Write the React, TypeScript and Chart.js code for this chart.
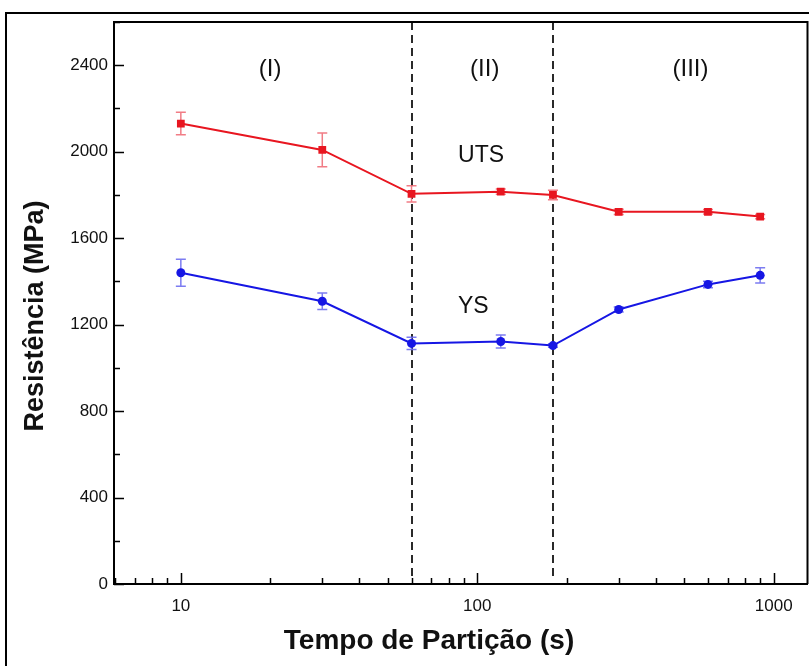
import React, { useEffect, useRef } from "react";
import { Chart, registerables } from "chart.js";

Chart.register(...registerables);

// ---- data ----
const times = [10, 30, 60, 120, 180, 300, 600, 900];
const utsValues = [2130, 2008, 1805, 1815, 1800, 1722, 1722, 1700];
const utsErrors = [52, 78, 38, 12, 22, 12, 10, 10];
const ysValues = [1440, 1308, 1113, 1122, 1103, 1270, 1386, 1428];
const ysErrors = [62, 38, 28, 30, 8, 12, 15, 35];
const xTickValues = [10, 100, 1000];
const yTickValues = [0, 400, 800, 1200, 1600, 2000, 2400];
const yMinorValues = [200, 600, 1000, 1400, 1800, 2200, 2600];
const xMinorValues = [6, 7, 8, 9, 20, 30, 40, 50, 60, 70, 80, 90, 200, 300, 400, 500, 600, 700, 800, 900];
const regionBoundaries = [60, 180];
const regionNames = ["(I)", "(II)", "(III)"];
const regionNameX = [20, 106, 524];
const regionNameY = 2380;
const seriesNames = ["UTS", "YS"];
const seriesNameX = [103, 97];
const seriesNameY = [1951, 1253];

const FONT = "'Liberation Sans', Arial, Helvetica, sans-serif";
const RED = "rgb(232,22,32)";
const BLUE = "rgb(22,22,228)";

const decorPlugin = {
  id: "decor",
  beforeDatasetsDraw(chart: any) {
    const { ctx, chartArea, scales } = chart;
    const xs = scales.x;
    ctx.save();
    ctx.strokeStyle = "#2a2a2a";
    ctx.lineWidth = 2;
    ctx.setLineDash([8, 5]);
    regionBoundaries.forEach((v) => {
      const px = Math.round(xs.getPixelForValue(v));
      ctx.beginPath();
      ctx.moveTo(px, chartArea.top);
      ctx.lineTo(px, chartArea.bottom - 4);
      ctx.stroke();
    });
    ctx.setLineDash([]);
    const drawErr = (vals: number[], errs: number[], color: string) => {
      ctx.strokeStyle = color;
      ctx.lineWidth = 1.5;
      times.forEach((t, i) => {
        const px = xs.getPixelForValue(t);
        const top = scales.y.getPixelForValue(vals[i] + errs[i]);
        const bot = scales.y.getPixelForValue(vals[i] - errs[i]);
        ctx.beginPath();
        ctx.moveTo(px, top);
        ctx.lineTo(px, bot);
        ctx.moveTo(px - 5, top);
        ctx.lineTo(px + 5, top);
        ctx.moveTo(px - 5, bot);
        ctx.lineTo(px + 5, bot);
        ctx.stroke();
      });
    };
    drawErr(utsValues, utsErrors, "rgba(240,110,120,0.9)");
    drawErr(ysValues, ysErrors, "rgba(110,110,240,0.9)");
    ctx.restore();
  },
  afterDraw(chart: any) {
    const { ctx, chartArea, scales } = chart;
    const xs = scales.x;
    const ys = scales.y;
    ctx.save();
    ctx.strokeStyle = "#000";
    ctx.lineWidth = 2;
    ctx.strokeRect(6, 13, 900, 800);
    ctx.beginPath();
    ctx.moveTo(chartArea.left, chartArea.top);
    ctx.lineTo(chartArea.right, chartArea.top);
    ctx.lineTo(chartArea.right, chartArea.bottom);
    ctx.stroke();
    ctx.lineWidth = 1.5;
    ctx.beginPath();
    yTickValues.forEach((v) => {
      const py = Math.round(ys.getPixelForValue(v)) + 0.5;
      ctx.moveTo(chartArea.left, py);
      ctx.lineTo(chartArea.left + 10, py);
    });
    yMinorValues.forEach((v) => {
      const py = Math.round(ys.getPixelForValue(v)) + 0.5;
      ctx.moveTo(chartArea.left, py);
      ctx.lineTo(chartArea.left + 6, py);
    });
    xTickValues.forEach((v) => {
      const px = Math.round(xs.getPixelForValue(v)) + 0.5;
      ctx.moveTo(px, chartArea.bottom);
      ctx.lineTo(px, chartArea.bottom - 11);
    });
    xMinorValues.forEach((v) => {
      const px = Math.round(xs.getPixelForValue(v)) + 0.5;
      ctx.moveTo(px, chartArea.bottom);
      ctx.lineTo(px, chartArea.bottom - 6);
    });
    ctx.stroke();

    ctx.fillStyle = "#111";
    ctx.textAlign = "center";
    ctx.textBaseline = "middle";
    ctx.font = `24px ${FONT}`;
    regionNames.forEach((name, i) => {
      ctx.fillText(name, xs.getPixelForValue(regionNameX[i]), ys.getPixelForValue(regionNameY));
    });
    ctx.textBaseline = "alphabetic";
    ctx.font = `23px ${FONT}`;
    seriesNames.forEach((name, i) => {
      ctx.fillText(name, xs.getPixelForValue(seriesNameX[i]), ys.getPixelForValue(seriesNameY[i]));
    });
    ctx.font = `bold 28px ${FONT}`;
    ctx.fillText("Tempo de Partição (s)", 429, 649);
    ctx.save();
    ctx.translate(43, 316);
    ctx.rotate(-Math.PI / 2);
    ctx.font = `bold 27px ${FONT}`;
    ctx.fillText("Resistência (MPa)", 0, 0);
    ctx.restore();
    ctx.restore();
  },
};

export default function App() {
  const ref = useRef<HTMLCanvasElement | null>(null);
  useEffect(() => {
    if (!ref.current) return;
    const chart = new Chart(ref.current, {
      type: "line",
      data: {
        datasets: [
          {
            label: "UTS",
            data: times.map((t, i) => ({ x: t, y: utsValues[i] })),
            borderColor: RED,
            backgroundColor: RED,
            borderWidth: 2,
            pointStyle: "rect",
            pointRadius: 5.5,
            pointBorderWidth: 0,
            tension: 0,
          },
          {
            label: "YS",
            data: times.map((t, i) => ({ x: t, y: ysValues[i] })),
            borderColor: BLUE,
            backgroundColor: BLUE,
            borderWidth: 2,
            pointStyle: "circle",
            pointRadius: 4.5,
            pointBorderWidth: 0,
            tension: 0,
          },
        ],
      },
      options: {
        animation: false,
        responsive: false,
        events: [],
        layout: { padding: { left: 0, top: 22, right: 0, bottom: 0 } },
        plugins: { legend: { display: false }, tooltip: { enabled: false } },
        scales: {
          x: {
            type: "logarithmic",
            min: 5.95,
            max: 1300,
            grid: { display: false, drawTicks: false },
            border: { display: true, color: "#000", width: 2 },
            afterBuildTicks: (s: any) => {
              s.ticks = xTickValues.map((v) => ({ value: v }));
            },
            afterFit: (s: any) => {
              s.height = 82;
            },
            ticks: {
              autoSkip: false,
              maxRotation: 0,
              padding: 12,
              color: "#111",
              font: { family: FONT, size: 17 },
              callback: (v: any) => String(v),
            },
          },
          y: {
            type: "linear",
            min: 0,
            max: 2600,
            grid: { display: false, drawTicks: false },
            border: { display: true, color: "#000", width: 2 },
            afterBuildTicks: (s: any) => {
              s.ticks = yTickValues.map((v) => ({ value: v }));
            },
            afterFit: (s: any) => {
              s.width = 114;
            },
            ticks: {
              padding: 6,
              color: "#111",
              font: { family: FONT, size: 17 },
              callback: (v: any) => String(v),
            },
          },
        },
      },
      plugins: [decorPlugin],
    } as any);
    return () => chart.destroy();
  }, []);
  return (
    <div style={{ position: "absolute", left: 0, top: 0, width: 809, height: 666, overflow: "hidden", background: "#fff" }}>
      <canvas ref={ref} width={813} height={666} style={{ display: "block" }} />
    </div>
  );
}
